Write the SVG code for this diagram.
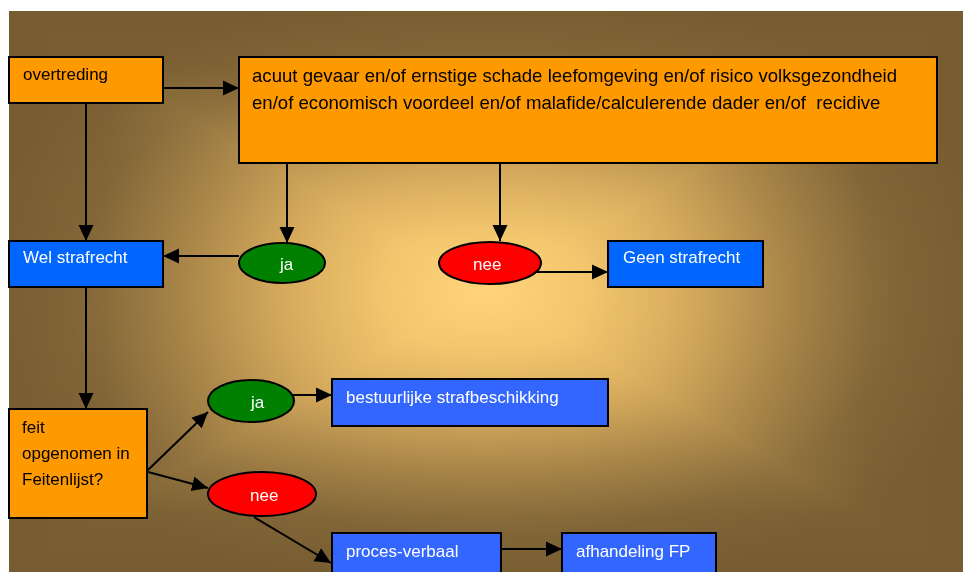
<svg xmlns="http://www.w3.org/2000/svg" width="963" height="572" viewBox="0 0 963 572">
<defs>
<radialGradient id="bg" cx="0.5" cy="0.5" r="0.55" fx="0.5" fy="0.5">
<stop offset="0" stop-color="#FFD47A"/>
<stop offset="0.2" stop-color="#f4c86e"/>
<stop offset="0.4" stop-color="#d8ac5d"/>
<stop offset="0.6" stop-color="#aa8749"/>
<stop offset="0.8" stop-color="#836739"/>
<stop offset="1" stop-color="#765C30"/>
</radialGradient>
<linearGradient id="gh" x1="0" y1="0" x2="1" y2="0">
<stop offset="0" stop-color="#765C30"/>
<stop offset="0.1" stop-color="#806437"/>
<stop offset="0.2" stop-color="#a88548"/>
<stop offset="0.3" stop-color="#d4a95c"/>
<stop offset="0.4" stop-color="#f0c46c"/>
<stop offset="0.5" stop-color="#FFD47A"/>
<stop offset="0.6" stop-color="#f0c46c"/>
<stop offset="0.7" stop-color="#d4a95c"/>
<stop offset="0.8" stop-color="#a88548"/>
<stop offset="0.9" stop-color="#806437"/>
<stop offset="1" stop-color="#765C30"/>
</linearGradient>
<linearGradient id="gv" x1="0" y1="0" x2="0" y2="1">
<stop offset="0" stop-color="#765C30"/>
<stop offset="0.1" stop-color="#806437"/>
<stop offset="0.2" stop-color="#a88548"/>
<stop offset="0.3" stop-color="#d4a95c"/>
<stop offset="0.4" stop-color="#f0c46c"/>
<stop offset="0.5" stop-color="#FFD47A"/>
<stop offset="0.6" stop-color="#f0c46c"/>
<stop offset="0.7" stop-color="#d4a95c"/>
<stop offset="0.8" stop-color="#a88548"/>
<stop offset="0.9" stop-color="#806437"/>
<stop offset="1" stop-color="#765C30"/>
</linearGradient>
<marker id="ah" markerUnits="userSpaceOnUse" markerWidth="17" markerHeight="16" refX="16" refY="8" orient="auto">
<path d="M0,0.5 L16,8 L0,15.5 z" fill="#000"/>
</marker>
</defs>
<style>
.or{fill:#FF9900;stroke:#000;stroke-width:2}
.b1{fill:#0066FF;stroke:#000;stroke-width:2}
.b2{fill:#3366FF;stroke:#000;stroke-width:2}
.gr{fill:#008000;stroke:#000;stroke-width:2}
.rd{fill:#FF0000;stroke:#000;stroke-width:2}
text{font-family:"Liberation Sans",Arial,sans-serif;font-size:17px}
.big{font-size:18.6px;white-space:pre}
.dk{fill:#000}
.wt{fill:#fff}
.c line{stroke:#000;stroke-width:2;marker-end:url(#ah)}
</style>
<rect x="0" y="0" width="963" height="572" fill="#fff"/>
<g id="background">
<rect x="9" y="11" width="954" height="561" fill="url(#gh)"/>
<rect x="9" y="11" width="954" height="561" fill="url(#gv)" style="mix-blend-mode:darken"/>
<rect x="9" y="11" width="954" height="561" fill="url(#bg)" opacity="0.55"/>
</g>

<g class="c" id="connectors">
<line x1="163" y1="88" x2="239" y2="88"/>
<line x1="86" y1="103" x2="86" y2="241"/>
<line x1="287" y1="163" x2="287" y2="243"/>
<line x1="500" y1="163" x2="500" y2="241"/>
<line x1="239" y1="256" x2="163" y2="256"/>
<line x1="532" y1="272" x2="608" y2="272"/>
<line x1="86" y1="287" x2="86" y2="409"/>
<line x1="148" y1="470" x2="208" y2="412"/>
<line x1="148" y1="472" x2="208" y2="488"/>
<line x1="285" y1="395" x2="332" y2="395"/>
<line x1="254" y1="517" x2="331" y2="563"/>
<line x1="501" y1="549" x2="562" y2="549"/>
</g>

<g id="overtreding">
<rect class="or" x="9" y="57" width="154" height="46"/>
<text class="dk" x="23" y="80">overtreding</text>
</g>
<g id="criteria">
<rect class="or" x="239" y="57" width="698" height="106"/>
<text class="dk big" x="252" y="82">acuut gevaar en/of ernstige schade leefomgeving en/of risico volksgezondheid</text>
<text class="dk big" x="252" y="109">en/of economisch voordeel en/of malafide/calculerende dader en/of  recidive</text>
</g>
<g id="wel-strafrecht">
<rect class="b1" x="9" y="241" width="154" height="46"/>
<text class="wt" x="23" y="263">Wel strafrecht</text>
</g>
<g id="ja1">
<ellipse class="gr" cx="282" cy="263" rx="43" ry="20"/>
<text class="wt" x="280" y="270">ja</text>
</g>
<g id="nee1">
<ellipse class="rd" cx="490" cy="263" rx="51" ry="21"/>
<text class="wt" x="473" y="270">nee</text>
</g>
<g id="geen-strafrecht">
<rect class="b1" x="608" y="241" width="155" height="46"/>
<text class="wt" x="623" y="263">Geen strafrecht</text>
</g>
<g id="feit">
<rect class="or" x="9" y="409" width="138" height="109"/>
<text class="dk" x="22" y="433">feit</text>
<text class="dk" x="22" y="459">opgenomen in</text>
<text class="dk" x="22" y="485">Feitenlijst?</text>
</g>
<g id="ja2">
<ellipse class="gr" cx="251" cy="401" rx="43" ry="21"/>
<text class="wt" x="251" y="408">ja</text>
</g>
<g id="nee2">
<ellipse class="rd" cx="262" cy="494" rx="54" ry="22"/>
<text class="wt" x="250" y="501">nee</text>
</g>
<g id="bestuurlijke">
<rect class="b2" x="332" y="379" width="276" height="47"/>
<text class="wt" x="346" y="403">bestuurlijke strafbeschikking</text>
</g>
<g id="proces-verbaal">
<rect class="b2" x="332" y="533" width="169" height="60"/>
<text class="wt" x="346" y="557">proces-verbaal</text>
</g>
<g id="afhandeling">
<rect class="b2" x="562" y="533" width="154" height="60"/>
<text class="wt" x="576" y="557">afhandeling FP</text>
</g>
</svg>
